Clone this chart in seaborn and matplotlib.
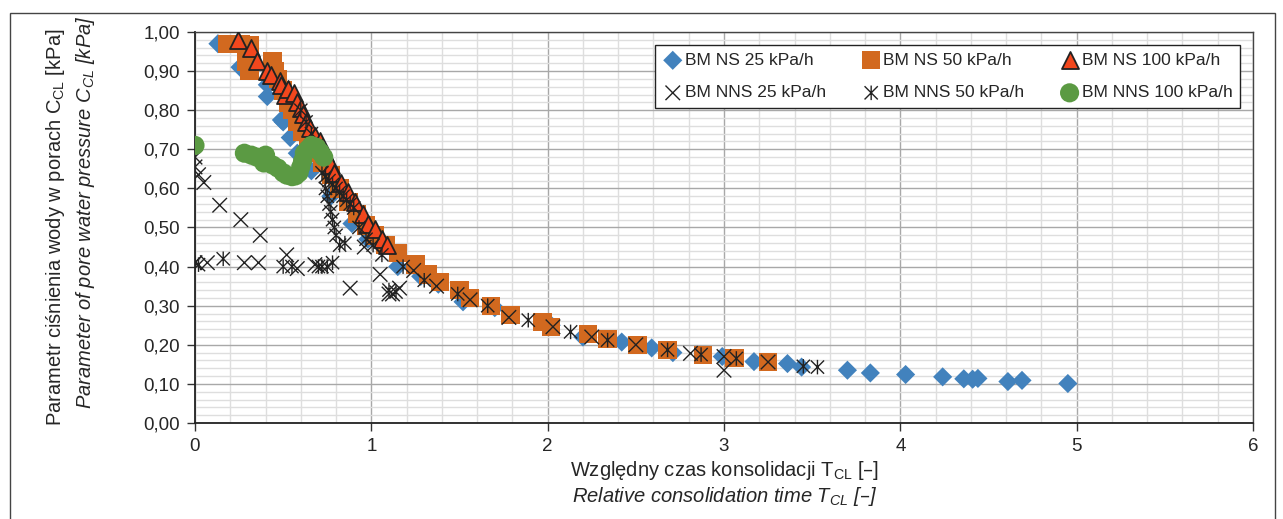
import numpy as np
import pandas as pd
import matplotlib
matplotlib.use('Agg')
import matplotlib.pyplot as plt
import seaborn as sns
from matplotlib.path import Path
from matplotlib.patches import Rectangle
from matplotlib.ticker import MultipleLocator, FuncFormatter

# --- data ---
ns25_x = [0.13, 0.255, 0.41, 0.41, 0.49, 0.50, 0.54, 0.58, 0.66, 0.77, 0.89, 0.98, 1.15, 1.28, 1.38,
          1.52, 1.70, 2.02, 2.20, 2.42, 2.59, 2.71, 2.99, 3.17, 3.36, 3.44, 3.70, 3.83, 4.03, 4.24,
          4.36, 4.41, 4.44, 4.61, 4.69, 4.95]
ns25_y = [0.97, 0.91, 0.865, 0.835, 0.775, 0.77, 0.73, 0.69, 0.645, 0.58, 0.51, 0.47, 0.40, 0.375, 0.355,
          0.31, 0.295, 0.25, 0.22, 0.207, 0.192, 0.18, 0.17, 0.157, 0.152, 0.143, 0.135, 0.128, 0.124, 0.118,
          0.113, 0.112, 0.114, 0.106, 0.109, 0.101]

ns50_x = [0.18, 0.26, 0.31, 0.29, 0.31, 0.44, 0.45, 0.47, 0.50, 0.53, 0.55, 0.58, 0.61, 0.64, 0.68,
          0.72, 0.77, 0.82, 0.87, 0.92, 0.97, 1.02, 1.08, 1.15, 1.25, 1.32, 1.39, 1.50, 1.56, 1.68,
          1.79, 1.97, 2.02, 2.23, 2.34, 2.51, 2.68, 2.88, 3.06, 3.25]
ns50_y = [0.97, 0.97, 0.965, 0.925, 0.90, 0.925, 0.90, 0.88, 0.85, 0.82, 0.80, 0.77, 0.745, 0.72, 0.69,
          0.665, 0.635, 0.60, 0.565, 0.535, 0.505, 0.48, 0.455, 0.435, 0.405, 0.38, 0.36, 0.34, 0.32, 0.30,
          0.276, 0.258, 0.246, 0.228, 0.215, 0.20, 0.187, 0.174, 0.166, 0.156]

ns100_x = [0.245, 0.32, 0.35, 0.41, 0.43, 0.48, 0.49, 0.51, 0.53, 0.56, 0.58, 0.60, 0.61, 0.63,
           0.65, 0.68, 0.71, 0.74, 0.77, 0.79, 0.83, 0.87, 0.91, 0.95, 0.98, 1.02, 1.06, 1.09]
ns100_y = [0.98, 0.96, 0.925, 0.90, 0.89, 0.875, 0.865, 0.84, 0.855, 0.845, 0.82, 0.805, 0.79, 0.77,
           0.755, 0.735, 0.72, 0.69, 0.66, 0.64, 0.615, 0.59, 0.565, 0.535, 0.51, 0.495, 0.47, 0.455]

nns25_x = [0.0, 0.0, 0.02, 0.05, 0.14, 0.26, 0.37, 0.0, 0.07, 0.28, 0.36, 0.52, 0.58, 0.68, 0.88,
           0.96, 1.05, 1.10, 1.12, 1.16, 1.24, 1.37, 1.56, 1.78, 2.03, 2.25, 2.50, 2.81, 3.00, 3.00, 3.25]
nns25_y = [0.68, 0.655, 0.635, 0.615, 0.557, 0.52, 0.48, 0.41, 0.41, 0.41, 0.41, 0.43, 0.395, 0.405, 0.345,
           0.45, 0.38, 0.33, 0.33, 0.345, 0.39, 0.35, 0.315, 0.27, 0.246, 0.22, 0.20, 0.178, 0.17, 0.135, 0.156]

nns50_x = [0.60, 0.63, 0.66, 0.69, 0.72, 0.74, 0.76, 0.78, 0.80, 0.82, 0.84, 0.86, 0.88, 0.90,
           0.74, 0.75, 0.76, 0.77, 0.78, 0.79, 0.80, 0.82, 0.85, 0.0, 0.02, 0.16, 0.50, 0.55, 0.70,
           0.72, 0.75, 0.78, 0.93, 0.97, 1.01, 1.06, 1.10, 1.14, 1.18, 1.30, 1.49, 1.66, 1.89, 2.13,
           2.34, 2.68, 2.87, 3.07, 3.45, 3.53]
nns50_y = [0.80, 0.77, 0.74, 0.71, 0.64, 0.63, 0.62, 0.61, 0.60, 0.59, 0.58, 0.57, 0.56, 0.55,
           0.60, 0.58, 0.56, 0.54, 0.52, 0.50, 0.48, 0.455, 0.46, 0.41, 0.405, 0.42, 0.40, 0.40, 0.40,
           0.40, 0.40, 0.41, 0.50, 0.47, 0.455, 0.43, 0.34, 0.335, 0.40, 0.365, 0.33, 0.30, 0.263, 0.233,
           0.212, 0.187, 0.175, 0.165, 0.145, 0.143]

nns100_x = [0.0, 0.28, 0.32, 0.35, 0.40, 0.39, 0.44, 0.47, 0.50, 0.52, 0.55, 0.57, 0.59, 0.60, 0.61,
            0.62, 0.64, 0.66, 0.69, 0.71, 0.73]
nns100_y = [0.71, 0.69, 0.685, 0.68, 0.685, 0.665, 0.66, 0.652, 0.64, 0.634, 0.63, 0.632, 0.64, 0.655, 0.67,
            0.69, 0.70, 0.71, 0.705, 0.693, 0.68]

labels = ['BM NS 25 kPa/h', 'BM NS 50 kPa/h', 'BM NS 100 kPa/h',
          'BM NNS 25 kPa/h', 'BM NNS 50 kPa/h', 'BM NNS 100 kPa/h']

# asterisk-like marker (x with a vertical stroke)
star_path = Path([(-1, -1), (1, 1), (-1, 1), (1, -1), (0, -1.1), (0, 1.1)],
                 [Path.MOVETO, Path.LINETO, Path.MOVETO, Path.LINETO, Path.MOVETO, Path.LINETO])
x_path = Path([(-1, -1), (1, 1), (-1, 1), (1, -1)],
              [Path.MOVETO, Path.LINETO, Path.MOVETO, Path.LINETO])

sns.set_style('white')
plt.rcParams['font.family'] = ['Liberation Sans Narrow', 'Liberation Sans', 'DejaVu Sans']

fig = plt.figure(figsize=(12.83, 5.19), dpi=100)
ax = fig.add_axes([195 / 1283, 1 - 423 / 519, (1253 - 195) / 1283, (423 - 32) / 519])

styles = [
    (ns25_x, ns25_y, dict(marker='D', color='#4282bd', s=95, edgecolor='none')),
    (ns50_x, ns50_y, dict(marker='s', color='#d2691f', s=175, edgecolor='none')),
    (ns100_x, ns100_y, dict(marker='^', color='#f2471d', s=150, edgecolor='#222222', linewidth=1.3)),
    (nns25_x, nns25_y, dict(marker=x_path, facecolor='none', edgecolor='#222222', s=110, linewidth=1.0)),
    (nns50_x, nns50_y, dict(marker=star_path, facecolor='none', edgecolor='#222222', s=110, linewidth=1.0)),
    (nns100_x, nns100_y, dict(marker='o', color='#5b9a43', s=190, edgecolor='none')),
]
handles = []
for (xs, ys, kw), lab in zip(styles, labels):
    df = pd.DataFrame({'x': xs, 'y': ys})
    sns.scatterplot(data=df, x='x', y='y', ax=ax, label=lab, zorder=3, **kw)
    handles.append(ax.collections[-1])

ax.set_xlim(0, 6)
ax.set_ylim(0, 1)
ax.xaxis.set_major_locator(MultipleLocator(1))
ax.xaxis.set_minor_locator(MultipleLocator(0.2))
ax.yaxis.set_major_locator(MultipleLocator(0.1))
ax.yaxis.set_minor_locator(MultipleLocator(0.02))
ax.yaxis.set_major_formatter(FuncFormatter(lambda v, p: f'{v:.2f}'.replace('.', ',')))
ax.grid(which='major', color='#a8a8a8', lw=1.0)
ax.grid(which='minor', color='#dedede', lw=1.0)
ax.set_axisbelow(True)
ax.tick_params(which='major', direction='out', length=6, width=1, color='#333333',
               labelsize=13.5, pad=5, left=True, bottom=True)
ax.tick_params(which='minor', length=0)
for side in ['left', 'bottom']:
    ax.spines[side].set_color('#222222')
    ax.spines[side].set_linewidth(1.3)
for side in ['top', 'right']:
    ax.spines[side].set_color('#444444')
    ax.spines[side].set_linewidth(1.0)
ax.set_xlabel('')
ax.set_ylabel('')

leg = ax.legend(handles=[handles[0], handles[3], handles[1], handles[4], handles[2], handles[5]],
                labels=[labels[0], labels[3], labels[1], labels[4], labels[2], labels[5]],
                ncol=3, loc='upper right', bbox_to_anchor=(0.988, 0.967), borderaxespad=0,
                fontsize=12.5, frameon=True, fancybox=False, framealpha=1, edgecolor='#222222',
                handletextpad=0.1, columnspacing=2.0, borderpad=0.45, labelspacing=1.0,
                scatterpoints=1, handlelength=1.2)
leg.get_frame().set_linewidth(1.0)

# axis titles (two lines, second italic)
fig.text(725 / 1283, 1 - 470 / 519, 'Względny czas konsolidacji T$_\\mathregular{CL}$ [–]',
         ha='center', va='center', fontsize=14.5)
fig.text(725 / 1283, 1 - 497 / 519, 'Relative consolidation time T$_\\mathregular{CL}$ [–]',
         ha='center', va='center', fontsize=14.5, style='italic')
fig.text(56 / 1283, 1 - 227 / 519, 'Parametr ciśnienia wody w porach C$_\\mathregular{CL}$ [kPa]',
         ha='center', va='center', rotation=90, fontsize=14.5)
fig.text(86 / 1283, 1 - 212 / 519, 'Parameter of pore water pressure C$_\\mathregular{CL}$ [kPa]',
         ha='center', va='center', rotation=90, fontsize=14.5, style='italic')

# outer frame of the figure
fig.patches.append(Rectangle((10 / 1283, -0.1), (1275 - 10) / 1283, 1.1 - 13 / 519,
                             transform=fig.transFigure, fill=False, edgecolor='#444444', lw=1.0))

fig.savefig('out.png', dpi=100)
